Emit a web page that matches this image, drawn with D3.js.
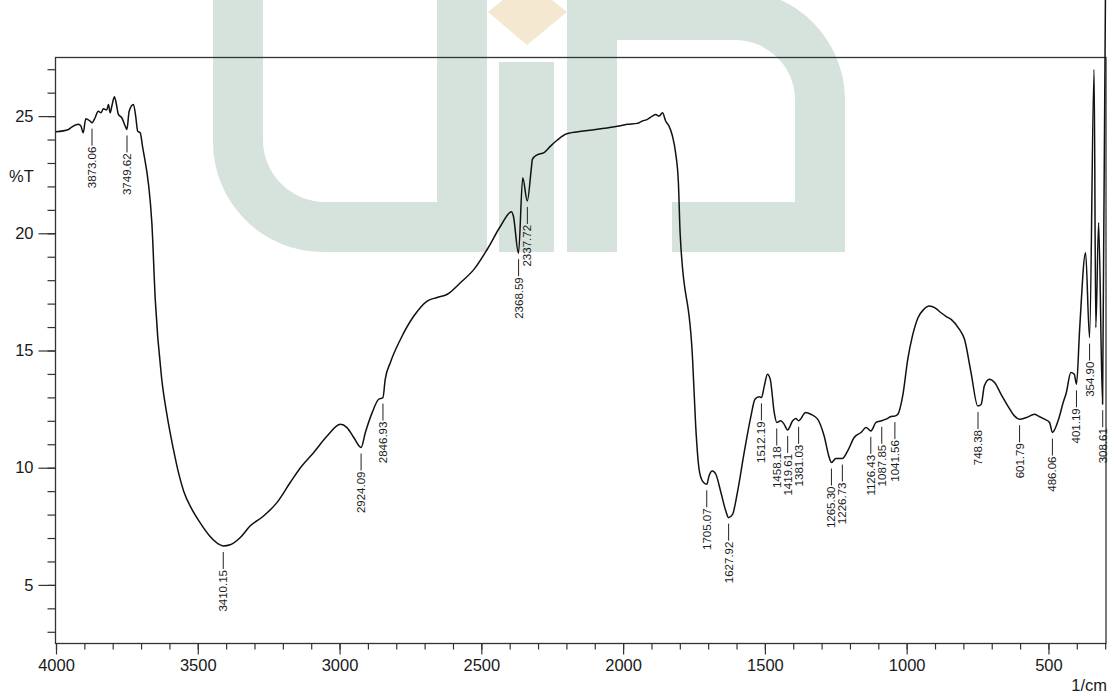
<!DOCTYPE html>
<html>
<head>
<meta charset="utf-8">
<script src="https://cdn.jsdelivr.net/npm/d3@7/dist/d3.min.js"></script>
<style>
  html, body { margin: 0; padding: 0; background: #fff; }
  svg { display: block; }
  text { font-family: "Liberation Sans", Arial, sans-serif; fill: #1a1a1a; }
</style>
</head>
<body>
<svg id="chart" width="1115" height="696"></svg>
<script>
// IR spectrum: wavenumber (1/cm) and transmittance (%T)
const wavenumbers = [
  4000, 3956, 3945, 3921, 3912, 3904, 3895, 3880, 3873, 3862, 3851, 3841, 3833, 3821, 3815, 3809,
  3803, 3794, 3788, 3780, 3768, 3755, 3750, 3742, 3727, 3719, 3712, 3703, 3695, 3662, 3650, 3627,
  3610, 3586, 3568, 3550, 3521, 3492, 3458, 3421, 3410, 3386, 3350, 3315, 3268, 3221, 3174, 3138,
  3091, 3044, 2997, 2974, 2950, 2924, 2909, 2885, 2862, 2847, 2839, 2821, 2785, 2738, 2691, 2656,
  2620, 2573, 2526, 2479, 2432, 2394, 2387, 2369, 2354, 2338, 2324, 2320, 2303, 2279, 2256, 2232,
  2199, 2140, 2079, 2020, 1985, 1950, 1932, 1914, 1897, 1885, 1873, 1861, 1850, 1838, 1826, 1815,
  1805, 1799, 1755, 1744, 1732, 1720, 1705, 1697, 1685, 1673, 1655, 1638, 1628, 1614, 1597, 1573,
  1549, 1535, 1520, 1512, 1502, 1491, 1481, 1467, 1458, 1444, 1432, 1420, 1402, 1391, 1381, 1356,
  1338, 1314, 1291, 1273, 1265, 1250, 1227, 1208, 1185, 1161, 1143, 1126, 1108, 1088, 1073, 1055,
  1042, 1031, 1014, 996, 980, 960, 940, 920, 900, 880, 860, 843, 814, 796, 773, 749,
  737, 726, 708, 690, 667, 643, 620, 602, 578, 549, 537, 514, 496, 486, 466, 448,
  437, 421, 409, 401, 390, 369, 355, 339, 333, 323, 309, 299
];
const transmittance = [
  24.33, 24.43, 24.53, 24.65, 24.57, 24.29, 24.89, 24.79, 24.72, 24.93, 25.21, 25.14, 25.31, 25.26, 25.50, 25.14,
  25.43, 25.83, 25.57, 25.07, 24.93, 24.55, 24.43, 25.21, 25.50, 25.00, 24.36, 24.29, 23.72, 20.45, 17.18, 13.77,
  12.35, 10.79, 9.79, 9.01, 8.23, 7.66, 7.09, 6.71, 6.66, 6.71, 7.02, 7.52, 7.94, 8.51, 9.37, 10.00,
  10.65, 11.35, 11.85, 11.71, 11.29, 10.86, 11.50, 12.35, 12.92, 12.99, 13.77, 14.48, 15.48, 16.47, 17.11, 17.26,
  17.40, 17.90, 18.46, 19.32, 20.31, 20.92, 20.74, 19.15, 22.37, 21.38, 22.73, 23.15, 23.35, 23.44, 23.72, 23.98,
  24.25, 24.36, 24.46, 24.57, 24.65, 24.69, 24.79, 24.86, 25.00, 25.07, 25.00, 25.14, 24.79, 24.57, 24.15, 23.44,
  22.16, 20.03, 14.63, 11.78, 9.93, 9.43, 9.29, 9.65, 9.86, 9.72, 8.94, 8.16, 7.87, 8.01, 8.94, 10.65,
  12.21, 12.92, 13.03, 12.99, 13.49, 13.99, 13.77, 12.35, 11.93, 12.00, 11.85, 11.61, 12.00, 12.10, 12.00, 12.35,
  12.28, 12.07, 11.35, 10.43, 10.22, 10.39, 10.39, 10.72, 11.29, 11.50, 11.71, 11.57, 11.93, 12.00, 12.07, 12.18,
  12.20, 12.28, 13.06, 14.63, 15.60, 16.40, 16.75, 16.90, 16.82, 16.62, 16.45, 16.33, 15.90, 15.48, 14.06, 12.63,
  12.71, 13.49, 13.77, 13.63, 13.13, 12.63, 12.21, 12.07, 12.14, 12.28, 12.21, 12.07, 11.93, 11.50, 12.00, 12.78,
  13.20, 14.06, 13.99, 13.56, 15.90, 19.17, 15.55, 26.99, 15.98, 20.45, 12.71, 30.00
];

// Annotated band positions and the %T at each band
const peakWavenumbers = [3873.06, 3749.62, 3410.15, 2924.09, 2846.93, 2368.59, 2337.72, 1705.07, 1627.92, 1512.19,
  1458.18, 1419.61, 1381.03, 1265.30, 1226.73, 1126.43, 1087.85, 1041.56, 748.38, 601.79, 486.06, 401.19, 354.90, 308.61];
const peakTransmittance = [24.72, 24.43, 6.66, 10.86, 12.99, 19.15, 21.38, 9.29, 7.87, 13.00,
  11.93, 11.61, 12.00, 10.22, 10.39, 11.57, 12.00, 12.20, 12.63, 12.07, 11.50, 13.56, 15.55, 12.71];

// Axis ticks
const xMajorTicks = [4000, 3500, 3000, 2500, 2000, 1500, 1000, 500];
const xMinorTicks = d3.range(4000, 299, -100);
const yMajorTicks = [5, 10, 15, 20, 25];
const yMinorTicks = d3.range(3, 28, 1);
const yTitle = "%T";
const xTitle = "1/cm";

(function draw() {
  const svg = d3.select("#chart");
  const frameL = 55.5, frameR = 1106, frameT = 57.5, frameB = 643.5;

  const x = d3.scaleLinear().domain([4000, 297]).range([frameL + 0.5, frameR]);
  const y = d3.scaleLinear().domain([2.5, 27.5]).range([frameB, frameT]);

  // Background watermark emblem
  const wm = svg.append("g").attr("class", "watermark");
  const green = "#d5e3dc";
  wm.append("path").attr("fill", green).attr("d",
    "M213,-10 L263,-10 L263,140 A62,62 0 0 0 325,202 L437,202 L437,-10 L487,-10 L487,252 L323,252 A110,110 0 0 1 213,142 Z");
  wm.append("rect").attr("fill", green).attr("x", 499).attr("y", 62).attr("width", 55).attr("height", 190);
  wm.append("path").attr("fill", "#f4e8d0").attr("d", "M527,-20 L567,12 L527,45 L488,12 Z");
  wm.append("path").attr("fill", green).attr("d",
    "M567,252 L567,-10 L735,-10 A110,110 0 0 1 845,100 L845,252 L672,252 L672,202 L795,202 L795,100 A60,60 0 0 0 735,40 L617,40 L617,252 Z");

  // Minor and major ticks
  const gx = svg.append("g").attr("transform", `translate(0,${frameB})`);
  gx.append("g").call(d3.axisBottom(x).tickValues(xMinorTicks).tickSize(6).tickFormat(""))
    .call(g => g.select(".domain").remove());
  gx.append("g").call(d3.axisBottom(x).tickValues(xMajorTicks).tickSize(11).tickPadding(5).tickFormat(d3.format("d")))
    .call(g => g.select(".domain").remove());

  const gy = svg.append("g").attr("transform", `translate(${frameL},0)`);
  gy.append("g").call(d3.axisLeft(y).tickValues(yMinorTicks).tickSize(8).tickFormat(""))
    .call(g => g.select(".domain").remove());
  gy.append("g").call(d3.axisLeft(y).tickValues(yMajorTicks).tickSize(17).tickPadding(5).tickFormat(d3.format("d")))
    .call(g => g.select(".domain").remove());

  svg.selectAll(".tick line").attr("stroke", "#333").attr("stroke-width", 1.2);
  svg.selectAll(".tick text").attr("font-size", "16.5px").attr("fill", "#1a1a1a")
    .attr("font-family", "'Liberation Sans', Arial, sans-serif");

  // Plot frame
  svg.append("rect").attr("x", frameL).attr("y", frameT).attr("width", frameR - frameL).attr("height", frameB - frameT)
    .attr("fill", "none").attr("stroke", "#333").attr("stroke-width", 1.3);

  // Axis titles
  svg.append("text").attr("x", 9).attr("y", 182).text(yTitle).attr("font-size", "16.5px");
  svg.append("text").attr("x", frameR + 1).attr("y", 691).attr("text-anchor", "end").text(xTitle)
    .attr("font-size", "16.5px");

  // Spectrum trace
  const spectrum = wavenumbers.map((w, i) => [w, transmittance[i]]);
  svg.append("path").datum(spectrum)
    .attr("fill", "none").attr("stroke", "#111").attr("stroke-width", 1.5).attr("stroke-linejoin", "round")
    .attr("d", d3.line().x(d => x(d[0])).y(d => y(d[1])).curve(d3.curveMonotoneX));

  // Band annotations: leader line below the band, value rotated beneath it
  const gap = 6, lead = 17;
  const ann = svg.append("g").selectAll("g").data(peakWavenumbers).join("g")
    .attr("transform", (w, i) => `translate(${x(w)},${y(peakTransmittance[i]) + gap})`);
  ann.append("line").attr("x1", 0).attr("x2", 0).attr("y1", 0).attr("y2", lead)
    .attr("stroke", "#222").attr("stroke-width", 1);
  ann.append("text").attr("transform", `translate(0,${lead + 1}) rotate(-90)`)
    .attr("text-anchor", "end").attr("dy", "0.35em").attr("font-size", "11.5px")
    .text(w => w.toFixed(2));
})();
</script>
</body>
</html>
